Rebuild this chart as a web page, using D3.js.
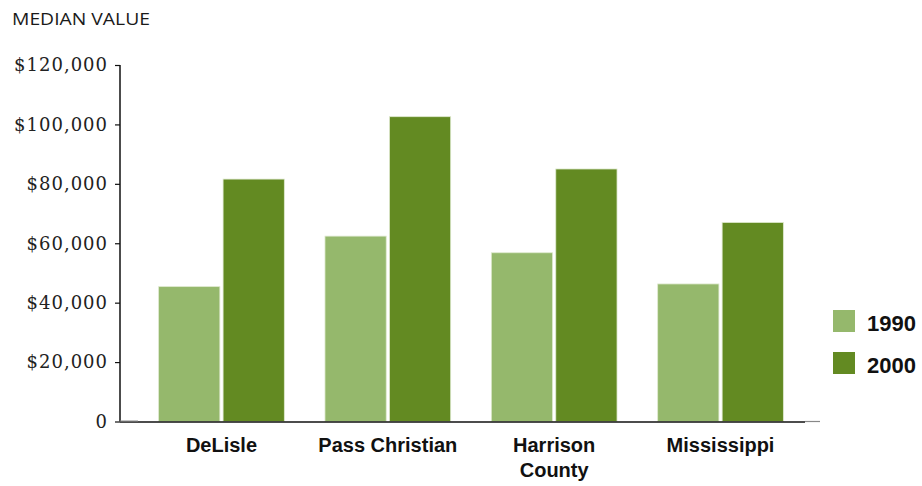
<!DOCTYPE html>
<html><head><meta charset="utf-8">
<script src="https://cdn.jsdelivr.net/npm/d3@7"></script>
<style>
html,body{margin:0;padding:0;background:#fff;}
svg{display:block;}
</style></head>
<body>
<svg id="chart" width="922" height="486"></svg>
<script>
const categories = ["DeLisle", "Pass Christian", "Harrison County", "Mississippi"];
const categoryLines = [["DeLisle"], ["Pass Christian"], ["Harrison", "County"], ["Mississippi"]];
const years = ["1990", "2000"];
const values1990 = [45400, 62400, 56800, 46300];
const values2000 = [81600, 102600, 85000, 67000];
const yTicks = [0, 20000, 40000, 60000, 80000, 100000, 120000];
const colors = {"1990": "#95b86c", "2000": "#638a22"};

const svg = d3.select("#chart");
const y = d3.scaleLinear().domain([0, 120000]).range([421.5, 65]);
const x0 = d3.scaleBand().domain(categories).range([121, 821]).paddingInner(0.2444).paddingOuter(0.2262);
const x1 = d3.scaleBand().domain(years).range([0, x0.bandwidth()]).paddingInner(0.05);

// title
svg.append("text").attr("x", 12).attr("y", 25)
  .attr("font-family", "'Open Sans', 'Liberation Sans', Arial, sans-serif")
  .attr("font-size", 17).attr("fill", "#1a1a1a")
  .attr("textLength", 138).attr("lengthAdjust", "spacingAndGlyphs")
  .text("MEDIAN VALUE");

// bars
const data = categories.map((c, i) => ({cat: c, vals: [{year: "1990", v: values1990[i]}, {year: "2000", v: values2000[i]}]}));
const g = svg.append("g");
g.selectAll("g.grp").data(data).join("g").attr("class", "grp")
  .attr("transform", d => `translate(${x0(d.cat)},0)`)
  .selectAll("rect").data(d => d.vals).join("rect")
  .attr("x", d => x1(d.year)).attr("width", x1.bandwidth())
  .attr("y", d => y(d.v)).attr("height", d => y(0) - y(d.v))
  .attr("fill", d => colors[d.year])
  .attr("stroke", "#dfe9cf").attr("stroke-width", 0.8);

// y axis
const yAxis = d3.axisLeft(y).tickValues(yTicks).tickSize(5).tickPadding(7)
  .tickFormat(d => d === 0 ? "0" : "$" + d3.format(",")(d));
const ya = svg.append("g").attr("transform", "translate(120,0)").call(yAxis);
ya.select(".domain").remove();
ya.selectAll("line").attr("stroke", "#111").attr("stroke-width", 1.2);
ya.selectAll("text").attr("font-family", "'DejaVu Serif', 'Liberation Serif', serif")
  .attr("font-size", 18).attr("fill", "#222").attr("letter-spacing", 1)
  .style("font-variant-numeric", "oldstyle-nums");
svg.append("line").attr("x1", 120).attr("x2", 120).attr("y1", y(120000)).attr("y2", y(0))
  .attr("stroke", "#111").attr("stroke-width", 1.5);

// x axis baseline
svg.append("line").attr("x1", 120).attr("x2", 805).attr("y1", y(0) + 0.5).attr("y2", y(0) + 0.5)
  .attr("stroke", "#111").attr("stroke-width", 1.5);
svg.append("line").attr("x1", 805).attr("x2", 820).attr("y1", y(0)).attr("y2", y(0))
  .attr("stroke", "#888").attr("stroke-width", 1.2);
svg.append("line").attr("x1", 120).attr("x2", 138).attr("y1", y(0) - 0.5).attr("y2", y(0) - 0.5)
  .attr("stroke", "#888").attr("stroke-width", 1);

// category labels
const labels = svg.append("g");
categoryLines.forEach((lines, i) => {
  const cx = x0(categories[i]) + x0.bandwidth() / 2;
  const t = labels.append("text").attr("x", cx).attr("y", 452)
    .attr("text-anchor", "middle")
    .attr("font-family", "'Liberation Sans', Arial, sans-serif")
    .attr("font-weight", "bold").attr("font-size", 20).attr("fill", "#111");
  lines.forEach((ln, j) => {
    t.append("tspan").attr("x", cx).attr("dy", j === 0 ? 0 : 25).text(ln);
  });
});

// legend
const leg = svg.append("g");
years.forEach((yr, i) => {
  leg.append("rect").attr("x", 833).attr("y", 310 + i * 42).attr("width", 22).attr("height", 22)
    .attr("fill", colors[yr]);
  leg.append("text").attr("x", 867).attr("y", 331 + i * 42)
    .attr("font-family", "'Liberation Sans', Arial, sans-serif")
    .attr("font-weight", "bold").attr("font-size", 22).attr("fill", "#111").text(yr);
});
</script>
</body></html>
